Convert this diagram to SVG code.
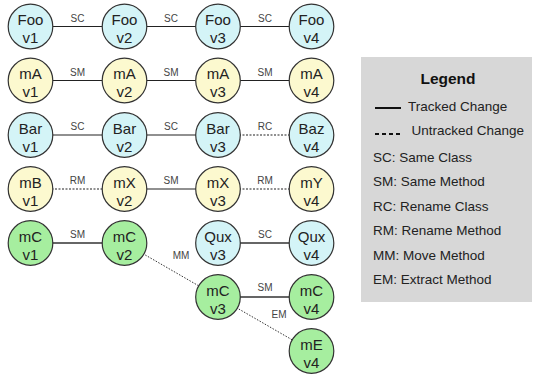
<svg xmlns="http://www.w3.org/2000/svg" width="533" height="376" viewBox="0 0 533 376">
<style>
.n circle{stroke:#333;stroke-width:1.2}
.cy{fill:#d4f4f7}.ye{fill:#fcf9cf}.gr{fill:#a6ee9f}
.n text{font-family:"Liberation Sans",Arial,sans-serif;font-size:15px;fill:#222;text-anchor:middle}
.e{stroke:#222;stroke-width:1.2;fill:none}
.e2{stroke:#666;stroke-width:2;fill:none}
.d{stroke:#222;stroke-width:1.2;stroke-dasharray:2 1.5;fill:none}
.dd{stroke:#333;stroke-width:1;stroke-dasharray:1.5 1.5;fill:none}
.l{font-family:"Liberation Sans",Arial,sans-serif;font-size:10px;fill:#444;text-anchor:middle}
.lg{font-family:"Liberation Sans",Arial,sans-serif;font-size:13.5px;fill:#222}
</style>
<g id="connectors">
<line class="e" x1="30.5" y1="26.5" x2="124.5" y2="26.5"/><text class="l" x="77.5" y="22">SC</text>
<line class="e" x1="124.5" y1="26.5" x2="218" y2="26.5"/><text class="l" x="171" y="22">SC</text>
<line class="e" x1="218" y1="26.5" x2="311.5" y2="26.5"/><text class="l" x="265" y="22">SC</text>
<line class="e" x1="30.5" y1="80.5" x2="124.5" y2="80.5"/><text class="l" x="77.5" y="76">SM</text>
<line class="e" x1="124.5" y1="80.5" x2="218" y2="80.5"/><text class="l" x="171" y="76">SM</text>
<line class="e" x1="218" y1="80.5" x2="311.5" y2="80.5"/><text class="l" x="265" y="76">SM</text>
<line class="e" x1="30.5" y1="135" x2="124.5" y2="135"/><text class="l" x="77.5" y="130">SC</text>
<line class="e" x1="124.5" y1="135" x2="218" y2="135"/><text class="l" x="171" y="130">SC</text>
<line class="d" x1="218" y1="135" x2="311.5" y2="135"/><text class="l" x="265" y="130">RC</text>
<line class="d" x1="30.5" y1="189" x2="124.5" y2="189"/><text class="l" x="77.5" y="184">RM</text>
<line class="e" x1="124.5" y1="189" x2="218" y2="189"/><text class="l" x="171" y="184">SM</text>
<line class="d" x1="218" y1="189" x2="311.5" y2="189"/><text class="l" x="265" y="184">RM</text>
<line class="e2" x1="30.5" y1="243" x2="124.5" y2="243"/><text class="l" x="77.5" y="238">SM</text>
<line class="e2" x1="218" y1="243" x2="311.5" y2="243"/><text class="l" x="265" y="238">SC</text>
<line class="dd" x1="124.5" y1="243" x2="218" y2="297"/><text class="l" x="181" y="259">MM</text>
<line class="e2" x1="218" y1="297" x2="311.5" y2="297"/><text class="l" x="265" y="291">SM</text>
<line class="dd" x1="218" y1="297" x2="311.5" y2="351"/><text class="l" x="279" y="318">EM</text>
</g>
<g id="foo1" class="n"><circle class="cy" cx="30.5" cy="26.5" r="22.3"/><text x="30.5" y="25">Foo</text><text x="30.5" y="43">v1</text></g>
<g id="foo2" class="n"><circle class="cy" cx="124.5" cy="26.5" r="22.3"/><text x="124.5" y="25">Foo</text><text x="124.5" y="43">v2</text></g>
<g id="foo3" class="n"><circle class="cy" cx="218" cy="26.5" r="22.3"/><text x="218" y="25">Foo</text><text x="218" y="43">v3</text></g>
<g id="foo4" class="n"><circle class="cy" cx="311.5" cy="26.5" r="22.3"/><text x="311.5" y="25">Foo</text><text x="311.5" y="43">v4</text></g>
<g id="mA1" class="n"><circle class="ye" cx="30.5" cy="80.5" r="22.3"/><text x="30.5" y="79">mA</text><text x="30.5" y="97">v1</text></g>
<g id="mA2" class="n"><circle class="ye" cx="124.5" cy="80.5" r="22.3"/><text x="124.5" y="79">mA</text><text x="124.5" y="97">v2</text></g>
<g id="mA3" class="n"><circle class="ye" cx="218" cy="80.5" r="22.3"/><text x="218" y="79">mA</text><text x="218" y="97">v3</text></g>
<g id="mA4" class="n"><circle class="ye" cx="311.5" cy="80.5" r="22.3"/><text x="311.5" y="79">mA</text><text x="311.5" y="97">v4</text></g>
<g id="bar1" class="n"><circle class="cy" cx="30.5" cy="135" r="22.3"/><text x="30.5" y="133.5">Bar</text><text x="30.5" y="151.5">v1</text></g>
<g id="bar2" class="n"><circle class="cy" cx="124.5" cy="135" r="22.3"/><text x="124.5" y="133.5">Bar</text><text x="124.5" y="151.5">v2</text></g>
<g id="bar3" class="n"><circle class="cy" cx="218" cy="135" r="22.3"/><text x="218" y="133.5">Bar</text><text x="218" y="151.5">v3</text></g>
<g id="baz4" class="n"><circle class="cy" cx="311.5" cy="135" r="22.3"/><text x="311.5" y="133.5">Baz</text><text x="311.5" y="151.5">v4</text></g>
<g id="mB1" class="n"><circle class="ye" cx="30.5" cy="189" r="22.3"/><text x="30.5" y="187.5">mB</text><text x="30.5" y="205.5">v1</text></g>
<g id="mX2" class="n"><circle class="ye" cx="124.5" cy="189" r="22.3"/><text x="124.5" y="187.5">mX</text><text x="124.5" y="205.5">v2</text></g>
<g id="mX3" class="n"><circle class="ye" cx="218" cy="189" r="22.3"/><text x="218" y="187.5">mX</text><text x="218" y="205.5">v3</text></g>
<g id="mY4" class="n"><circle class="ye" cx="311.5" cy="189" r="22.3"/><text x="311.5" y="187.5">mY</text><text x="311.5" y="205.5">v4</text></g>
<g id="mC1" class="n"><circle class="gr" cx="30.5" cy="243" r="22.3"/><text x="30.5" y="241.5">mC</text><text x="30.5" y="259.5">v1</text></g>
<g id="mC2" class="n"><circle class="gr" cx="124.5" cy="243" r="22.3"/><text x="124.5" y="241.5">mC</text><text x="124.5" y="259.5">v2</text></g>
<g id="qux3" class="n"><circle class="cy" cx="218" cy="243" r="22.3"/><text x="218" y="241.5">Qux</text><text x="218" y="259.5">v3</text></g>
<g id="qux4" class="n"><circle class="cy" cx="311.5" cy="243" r="22.3"/><text x="311.5" y="241.5">Qux</text><text x="311.5" y="259.5">v4</text></g>
<g id="mC3" class="n"><circle class="gr" cx="218" cy="297" r="22.3"/><text x="218" y="295.5">mC</text><text x="218" y="313.5">v3</text></g>
<g id="mC4" class="n"><circle class="gr" cx="311.5" cy="297" r="22.3"/><text x="311.5" y="295.5">mC</text><text x="311.5" y="313.5">v4</text></g>
<g id="mE4" class="n"><circle class="gr" cx="311.5" cy="351" r="22.3"/><text x="311.5" y="349.5">mE</text><text x="311.5" y="367.5">v4</text></g>
<g id="legend">
<rect x="361" y="57" width="171" height="245" fill="#d7d7d7"/>
<text x="448" y="84" font-family="Liberation Sans,Arial,sans-serif" font-size="15.5" font-weight="bold" fill="#111" text-anchor="middle">Legend</text>
<line x1="375" y1="108" x2="401" y2="108" stroke="#111" stroke-width="2"/>
<text class="lg" x="408" y="111">Tracked Change</text>
<line x1="375" y1="134" x2="400" y2="134" stroke="#111" stroke-width="2" stroke-dasharray="4 3"/>
<text class="lg" x="411.5" y="135">Untracked Change</text>
<text class="lg" x="373" y="162">SC: Same Class</text>
<text class="lg" x="373" y="186.4">SM: Same Method</text>
<text class="lg" x="373" y="210.8">RC: Rename Class</text>
<text class="lg" x="373" y="235.2">RM: Rename Method</text>
<text class="lg" x="373" y="259.6">MM: Move Method</text>
<text class="lg" x="373" y="284">EM: Extract Method</text>
</g>
</svg>
